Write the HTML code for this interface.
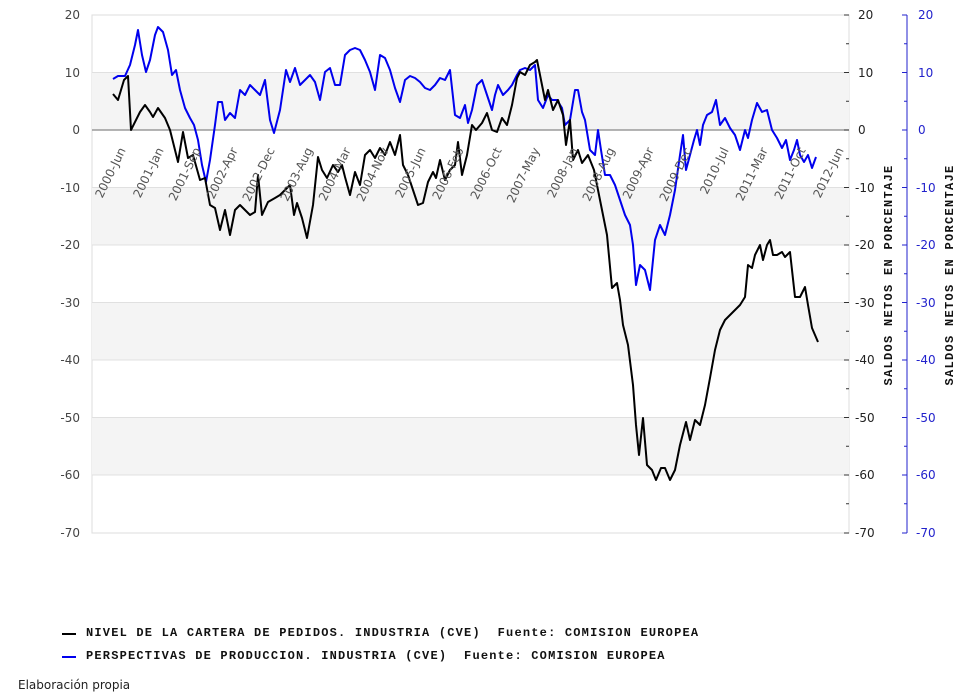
<!DOCTYPE html>
<html><head><meta charset="utf-8"><style>body{margin:0;background:#fff}svg{display:block}</style></head><body>
<svg width="967" height="696" xmlns="http://www.w3.org/2000/svg" font-family="DejaVu Sans, Liberation Sans, sans-serif">
<rect x="92" y="15" width="757" height="518" fill="#fff" stroke="#ddd"/>
<rect x="92" y="72.5" width="757" height="57.5" fill="#f4f4f4"/>
<rect x="92" y="187.5" width="757" height="57.5" fill="#f4f4f4"/>
<rect x="92" y="302.5" width="757" height="57.5" fill="#f4f4f4"/>
<rect x="92" y="417.5" width="757" height="57.5" fill="#f4f4f4"/>
<g stroke="#e0e0e0"><line x1="92" x2="849" y1="72.5" y2="72.5"/><line x1="92" x2="849" y1="187.5" y2="187.5"/><line x1="92" x2="849" y1="245" y2="245"/><line x1="92" x2="849" y1="302.5" y2="302.5"/><line x1="92" x2="849" y1="360" y2="360"/><line x1="92" x2="849" y1="417.5" y2="417.5"/><line x1="92" x2="849" y1="475" y2="475"/></g>
<line x1="92" x2="849" y1="130" y2="130" stroke="#888" stroke-width="1.2"/>
<g font-size="12" fill="#444" text-anchor="end">
<text x="80" y="19">20</text><text x="80" y="77">10</text><text x="80" y="134">0</text><text x="80" y="192">-10</text><text x="80" y="249">-20</text><text x="80" y="307">-30</text><text x="80" y="364">-40</text><text x="80" y="422">-50</text><text x="80" y="479">-60</text><text x="80" y="537">-70</text></g>
<g font-size="12" fill="#222">
<text x="858" y="19">20</text><text x="858" y="77">10</text><text x="858" y="134">0</text><text x="855" y="192">-10</text><text x="855" y="249">-20</text><text x="855" y="307">-30</text><text x="855" y="364">-40</text><text x="855" y="422">-50</text><text x="855" y="479">-60</text><text x="855" y="537">-70</text></g>
<g stroke="#333"><path d="M844 15h5M846 43.75h3M844 72.5h5M846 101.25h3M844 130h5M846 158.75h3M844 187.5h5M846 216.25h3M844 245h5M846 273.75h3M844 302.5h5M846 331.25h3M844 360h5M846 388.75h3M844 417.5h5M846 446.25h3M844 475h5M846 503.75h3M844 533h5"/></g>
<g stroke="#2222cc"><line x1="907" x2="907" y1="15" y2="533"/><path d="M902 15h5M904 43.75h3M902 72.5h5M904 101.25h3M902 130h5M904 158.75h3M902 187.5h5M904 216.25h3M902 245h5M904 273.75h3M902 302.5h5M904 331.25h3M902 360h5M904 388.75h3M902 417.5h5M904 446.25h3M902 475h5M904 503.75h3M902 533h5"/></g>
<g font-size="12" fill="#2222cc">
<text x="918" y="19">20</text><text x="918" y="77">10</text><text x="918" y="134">0</text><text x="916" y="192">-10</text><text x="916" y="249">-20</text><text x="916" y="307">-30</text><text x="916" y="364">-40</text><text x="916" y="422">-50</text><text x="916" y="479">-60</text><text x="916" y="537">-70</text></g>
<g font-family="Liberation Mono, DejaVu Sans Mono, monospace" font-size="12" font-weight="bold" fill="#111" text-anchor="middle" letter-spacing="1.3">
<text transform="translate(892,275) rotate(-90)">SALDOS NETOS EN PORCENTAJE</text>
<text transform="translate(953,275) rotate(-90)">SALDOS NETOS EN PORCENTAJE</text></g>
<polyline fill="none" stroke="#0000ee" stroke-width="2" stroke-linejoin="round" points="113,79 118,76 125,76 130,65 135,45 138,30 142,55 146,72 150,60 155,35 158,27 163,32 168,50 172,75 176,70 180,90 185,108 190,118 194,125 198,140 202,165 206,182 210,160 215,125 218,102 222,102 225,120 230,113 235,118 240,90 245,95 250,85 255,90 260,95 265,80 270,120 274,133 280,110 286,70 290,82 295,68 300,85 305,80 310,75 315,82 320,100 325,72 330,68 335,85 340,85 345,55 350,50 355,48 360,50 365,60 370,72 375,90 380,55 385,58 390,70 395,88 400,102 405,80 410,76 415,78 420,82 425,88 430,90 435,85 440,78 445,80 450,70 455,115 460,118 465,105 468,123 472,110 477,85 482,80 487,95 492,110 495,95 498,85 503,95 508,90 512,85 517,75 520,70 525,68 530,70 535,65 538,100 543,108 548,95 552,100 557,100 562,108 565,125 570,120 575,90 578,90 582,112 585,120 590,150 595,155 598,130 601,150 605,175 610,175 615,185 620,200 625,215 630,225 633,245 636,285 640,265 645,270 650,290 655,240 660,225 665,235 670,215 675,190 680,155 683,135 686,170 690,155 694,140 697,130 700,145 703,125 707,115 712,112 716,100 720,125 725,118 730,128 735,135 740,150 745,130 748,138 752,120 757,103 762,112 767,110 772,130 777,138 782,148 786,140 790,160 794,150 797,140 800,155 804,162 808,155 812,168 816,157"/>
<polyline fill="none" stroke="#000" stroke-width="2" stroke-linejoin="round" points="113,94 118,100 124,80 128,76 131,130 140,112 145,105 150,112 153,117 158,108 165,118 170,130 178,162 183,132 188,158 193,155 200,180 205,178 210,205 215,208 220,230 225,210 230,235 235,210 240,205 245,210 250,215 255,212 258,175 262,215 268,202 275,198 280,195 290,185 294,215 297,203 302,218 307,238 313,205 318,157 322,170 327,178 333,165 338,172 342,165 345,177 350,195 355,172 360,185 365,155 370,150 375,158 380,148 385,155 390,142 395,155 400,135 403,165 408,175 413,190 418,205 423,203 428,182 433,172 436,178 440,160 445,180 450,170 455,165 458,142 462,175 467,155 472,125 476,130 482,123 487,113 492,130 497,132 502,118 507,125 512,105 517,78 520,72 525,75 530,65 535,62 537,60 540,75 545,100 548,90 553,110 558,100 563,115 566,145 570,120 573,160 578,150 582,163 588,155 594,170 598,190 603,215 607,235 612,288 617,283 620,300 623,325 628,345 633,385 636,425 639,455 643,418 647,465 652,470 656,480 661,468 665,468 670,480 675,470 680,445 686,422 690,440 695,420 700,425 705,405 710,378 715,350 720,330 725,320 730,315 735,310 740,305 745,297 748,265 752,268 755,255 760,245 763,260 767,245 770,240 773,255 777,255 782,252 785,257 790,252 795,297 800,297 805,287 808,305 812,328 818,342"/>
<g font-size="12" fill="#555" text-anchor="end">
<text transform="translate(126,150) rotate(-64)">2000-Jun</text>
<text transform="translate(164,150) rotate(-64)">2001-Jan</text>
<text transform="translate(201,150) rotate(-64)">2001-Sep</text>
<text transform="translate(238,150) rotate(-64)">2002-Apr</text>
<text transform="translate(275,150) rotate(-64)">2002-Dec</text>
<text transform="translate(313,150) rotate(-64)">2003-Aug</text>
<text transform="translate(351,150) rotate(-64)">2004-Mar</text>
<text transform="translate(389,150) rotate(-64)">2004-Nov</text>
<text transform="translate(426,150) rotate(-64)">2005-Jun</text>
<text transform="translate(464,150) rotate(-64)">2006-Feb</text>
<text transform="translate(502,150) rotate(-64)">2006-Oct</text>
<text transform="translate(540,150) rotate(-64)">2007-May</text>
<text transform="translate(578,150) rotate(-64)">2008-Jan</text>
<text transform="translate(615,150) rotate(-64)">2008-Aug</text>
<text transform="translate(654,150) rotate(-64)">2009-Apr</text>
<text transform="translate(692,150) rotate(-64)">2009-Dec</text>
<text transform="translate(729,150) rotate(-64)">2010-Jul</text>
<text transform="translate(768,150) rotate(-64)">2011-Mar</text>
<text transform="translate(806,150) rotate(-64)">2011-Oct</text>
<text transform="translate(844,150) rotate(-64)">2012-Jun</text>
</g>
<line x1="62" x2="76" y1="634" y2="634" stroke="#000" stroke-width="2"/>
<line x1="62" x2="76" y1="657" y2="657" stroke="#0000ee" stroke-width="2"/>
<g font-family="Liberation Mono, DejaVu Sans Mono, monospace" font-size="12" font-weight="bold" fill="#111" letter-spacing="1.2">
<text x="86" y="636">NIVEL DE LA CARTERA DE PEDIDOS. INDUSTRIA (CVE)&#160;&#160;Fuente: COMISION EUROPEA</text>
<text x="86" y="659">PERSPECTIVAS DE PRODUCCION. INDUSTRIA (CVE)&#160;&#160;Fuente: COMISION EUROPEA</text>
</g>
<text x="18" y="689" font-size="12" fill="#222">Elaboración propia</text>
</svg>
</body></html>
